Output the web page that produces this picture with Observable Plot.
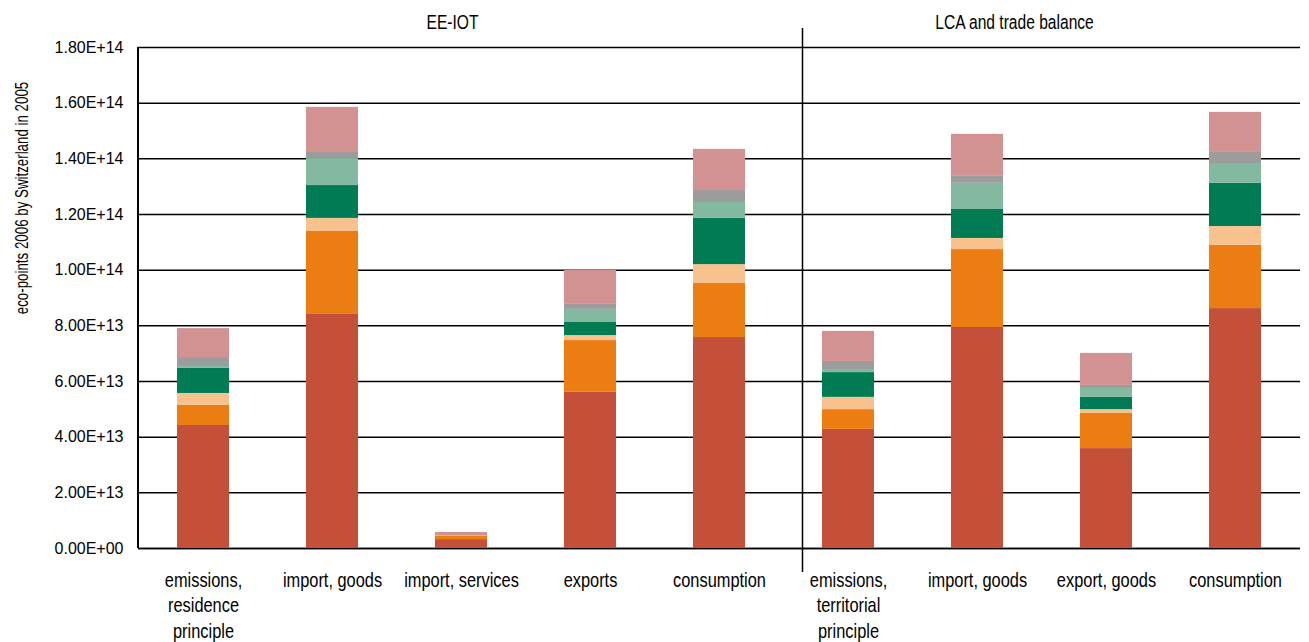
<!DOCTYPE html>
<html>
<head>
<meta charset="utf-8">
<script src="https://cdn.jsdelivr.net/npm/d3@7"></script>
<script src="https://cdn.jsdelivr.net/npm/@observablehq/plot@0.6"></script>
<style>
  html, body { margin: 0; padding: 0; background: #fff; }
  #chart svg { display: block; }
</style>
</head>
<body>
<div id="chart"></div>
<script>
// ---- data (values in eco-points) ----
const categoryKeys = ["ee-emis", "ee-impg", "ee-imps", "ee-exp", "ee-cons", "lca-emis", "lca-impg", "lca-expg", "lca-cons"];
const categoryLabels = [
  "emissions,\nresidence\nprinciple", "import, goods", "import, services", "exports", "consumption",
  "emissions,\nterritorial\nprinciple", "import, goods", "export, goods", "consumption"
];
const groupLabels = ["EE-IOT", "LCA and trade balance"];
const seriesNames = ["series 1", "series 2", "series 3", "series 4", "series 5", "series 6", "series 7"];
const seriesColors = ["#C4503A", "#EC7D12", "#F8C28E", "#007B53", "#82B9A0", "#9C9C9C", "#D39292"];

const series1 = [44.2e12, 84.1e12, 3.2e12, 56.1e12, 75.8e12, 42.8e12, 79.4e12, 35.9e12, 86.2e12];
const series2 = [7.2e12, 29.8e12, 1.2e12, 18.6e12, 19.4e12, 7.1e12, 28.0e12, 12.6e12, 22.7e12];
const series3 = [4.3e12, 4.7e12, 0.1e12, 1.8e12, 6.8e12, 4.4e12, 4.0e12, 1.4e12, 6.8e12];
const series4 = [9.0e12, 11.8e12, 0.05e12, 4.7e12, 16.6e12, 8.9e12, 10.4e12, 4.4e12, 15.5e12];
const series5 = [0.7e12, 9.7e12, 0.05e12, 4.7e12, 5.7e12, 1.1e12, 9.4e12, 3.2e12, 6.8e12];
const series6 = [3.2e12, 2.5e12, 0.05e12, 1.8e12, 4.3e12, 2.9e12, 2.5e12, 1.1e12, 4.3e12];
const series7 = [10.4e12, 15.9e12, 1.1e12, 12.2e12, 14.8e12, 10.8e12, 15.1e12, 11.5e12, 14.4e12];

const yTicks = [0, 2e13, 4e13, 6e13, 8e13, 1e14, 1.2e14, 1.4e14, 1.6e14, 1.8e14];
const yTitle = "eco-points 2006 by Switzerland in 2005";

// ---- build table ----
const allSeries = [series1, series2, series3, series4, series5, series6, series7];
const rows = [];
allSeries.forEach((vals, s) => {
  vals.forEach((v, i) => rows.push({cat: categoryKeys[i], series: seriesNames[s], value: v}));
});

const sci = d => {
  if (d === 0) return "0.00E+00";
  const e = Math.floor(Math.log10(d));
  const m = d / Math.pow(10, e);
  return m.toFixed(2) + "E+" + String(e).padStart(2, "0");
};

const REG = "'Liberation Sans', Arial, sans-serif";
const NARROW_CAT = "'Liberation Sans', 'Arial Narrow', sans-serif";      // category labels
const NARROW_HEAD = "'Liberation Sans', 'Arial Narrow', Arial, sans-serif"; // group headers
const NARROW_TITLE = "'Liberation Sans', 'Arial Narrow', Helvetica, sans-serif"; // y title

// custom mark: vertical line at the left edge of the frame (the y axis line)
const leftAxisLine = (index, scales, values, dim) => {
  const line = document.createElementNS("http://www.w3.org/2000/svg", "line");
  line.setAttribute("x1", dim.marginLeft);
  line.setAttribute("x2", dim.marginLeft);
  line.setAttribute("y1", dim.marginTop);
  line.setAttribute("y2", dim.height - dim.marginBottom);
  line.setAttribute("stroke", "#000");
  line.setAttribute("stroke-width", 2);
  return line;
};

const chart = Plot.plot({
  width: 1309,
  height: 642,
  marginTop: 47,
  marginBottom: 94,
  marginLeft: 138,
  marginRight: 9,
  style: {fontFamily: REG, background: "#fff", color: "#000"},
  x: {domain: categoryKeys, paddingInner: 0.6, paddingOuter: 0.3, label: null},
  y: {domain: [0, 1.8e14], label: null},
  color: {domain: seriesNames, range: seriesColors},
  marks: [
    Plot.gridY(yTicks, {stroke: "#000", strokeOpacity: 1, strokeWidth: 1.5}),
    Plot.ruleY([0], {stroke: "#000", strokeWidth: 1.5}),
    Plot.barY(rows, {x: "cat", y: "value", fill: "series", order: seriesNames}),
    leftAxisLine,
    Plot.ruleX(["ee-cons"], {x: d => d, y1: 1.8e14, y2: 0, dx: 83, insetTop: -19, insetBottom: -24, stroke: "#000", strokeWidth: 1.5}),
    Plot.axisY({ticks: yTicks, tickFormat: sci, tickSize: 0, tickPadding: 15, fontSize: 16, fontFamily: REG, label: null}),
    Plot.axisX({tickSize: 0, tickPadding: 20, fontSize: 20, fontFamily: NARROW_CAT, lineHeight: 1.28,
      tickFormat: k => categoryLabels[categoryKeys.indexOf(k)], label: null}),
    Plot.text([groupLabels[0]], {x: () => "ee-imps", y: () => 1.8e14, text: d => d, dx: -9, dy: -19, lineAnchor: "bottom", fontSize: 19.5, fontFamily: NARROW_HEAD}),
    Plot.text([groupLabels[1]], {x: () => "lca-impg", y: () => 1.8e14, text: d => d, dx: 37, dy: -19, lineAnchor: "bottom", fontSize: 19.5, fontFamily: NARROW_HEAD}),
    Plot.text([yTitle], {frameAnchor: "left", textAnchor: "middle", text: d => d, rotate: -90, dx: -116, dy: -100, fontSize: 18, fontFamily: NARROW_TITLE})
  ]
});

// emulate a condensed face: horizontal compression of the narrow texts
const condense = (family, s) => {
  chart.querySelectorAll(`[font-family="${family}"] text`).forEach(t => {
    const tr = t.getAttribute("transform") || "";
    t.setAttribute("transform", (tr + ` scale(${s},1)`).trim());
  });
};
condense(NARROW_CAT, 0.82);
condense(NARROW_HEAD, 0.8);
condense(NARROW_TITLE, 0.74);

document.getElementById("chart").appendChild(chart);
</script>
</body>
</html>
